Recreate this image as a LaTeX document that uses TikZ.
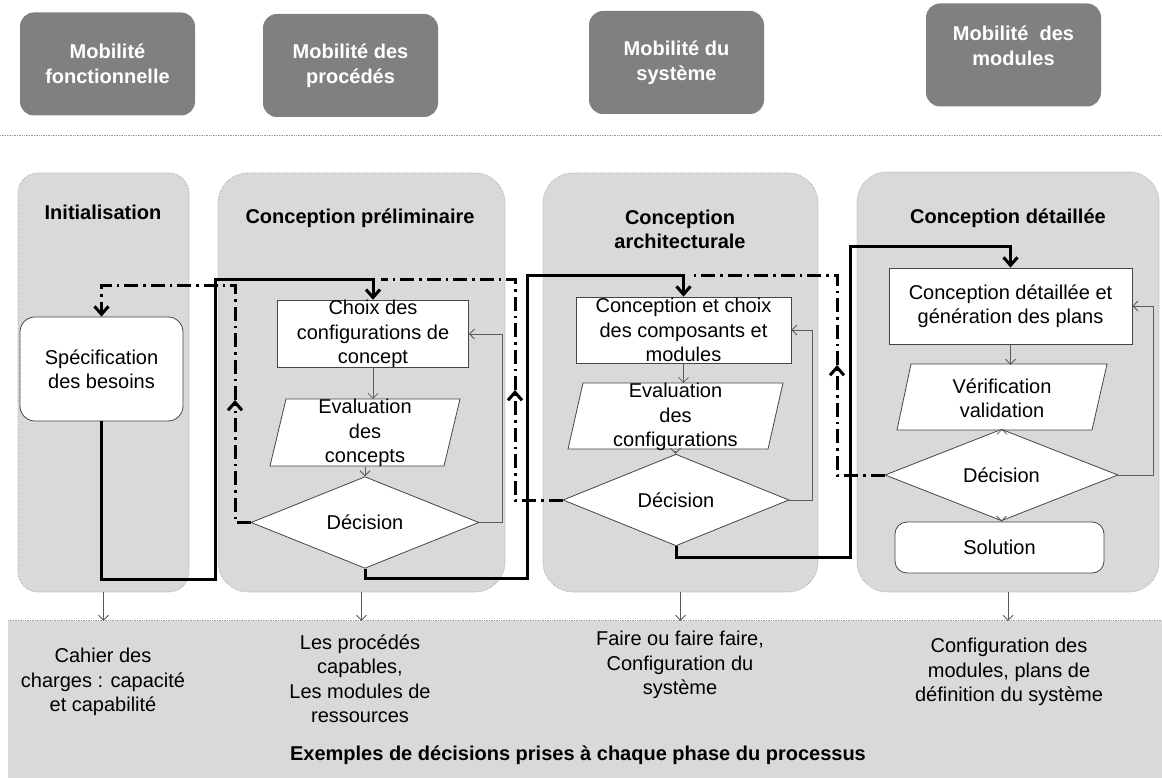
\documentclass[tikz,border=0pt]{standalone}
\usepackage{fontspec}
\setmainfont{Liberation Sans}
\usetikzlibrary{arrows.meta,shapes.geometric}
\definecolor{topgray}{HTML}{808080}
\definecolor{phasegray}{HTML}{D9D9D9}
\definecolor{bordergray}{HTML}{9A9A9A}
\definecolor{boxline}{HTML}{454545}
\definecolor{arrowgray}{HTML}{5A5A5A}
\begin{document}
\begin{tikzpicture}[x=1pt,y=-1pt]
\tikzset{
 topbox/.style={fill=topgray, rounded corners=14pt, minimum width=175pt, minimum height=103pt, inner sep=0pt, text=white, font=\bfseries\fontsize{20}{24.5}\selectfont, align=center},
 phase/.style={fill=phasegray, draw=bordergray, densely dotted, line width=0.6pt, inner sep=0pt},
 ptitle/.style={font=\bfseries\fontsize{20}{24}\selectfont, align=center, inner sep=0pt},
 body/.style={font=\fontsize{20}{24.5}\selectfont, align=center, inner sep=0pt},
 procbox/.style={body, draw=boxline, fill=white, line width=0.8pt},
 decbox/.style={body, shape=diamond, draw=boxline, fill=white, line width=0.8pt},
 parabox/.style={draw=boxline, fill=white, line width=0.8pt},
 thinarrow/.style={draw=arrowgray, line width=0.8pt, -{Straight Barb[length=5pt,width=10pt]}},
 thickflow/.style={line width=3pt, -{Straight Barb[length=8pt,width=14pt]}},
 dashflow/.style={line width=3pt, dash pattern=on 14pt off 5pt on 2.5pt off 5pt},
 dasharrow/.style={dashflow, -{Straight Barb[length=8pt,width=14pt]}},
}
\useasboundingbox (0,0) rectangle (1162,778);

% top boxes
\node[topbox] (m1) at (107.5,64) {Mobilité\\fonctionnelle};
\node[topbox] (m2) at (350.5,65.5) {Mobilité des\\procédés};
\node[topbox] (m3) at (676.5,62.5) {Mobilité du\\système};
\node[topbox] (m4) at (1013.5,55) {};
\node[topbox, fill=none, minimum width=0pt, minimum height=0pt] (t4) at (1013.5,46) {Mobilité\ \ des\\modules};
\draw[bordergray, densely dotted, line width=0.7pt] (0,135) -- (1162,135);

% bottom band
\node[fill=phasegray, inner sep=0pt, minimum width=1154pt, minimum height=157pt] (band) at (585,699.5) {};
\draw[bordergray, densely dotted, line width=0.7pt] (band.north west) -- (band.north east);

% phase columns
\node[phase, rounded corners=20pt, minimum width=171pt, minimum height=419pt] (col1) at (103.5,382.5) {};
\node[phase, rounded corners=30pt, minimum width=287pt, minimum height=419pt] (col2) at (361.5,382.5) {};
\node[phase, rounded corners=30pt, minimum width=275pt, minimum height=419pt] (col3) at (680.5,382.5) {};
\node[phase, rounded corners=30pt, minimum width=302pt, minimum height=420pt] (col4) at (1008,382) {};

\node[ptitle] (h1) at (103,212) {Initialisation};
\node[ptitle] (h2) at (360,218) {Conception préliminaire};
\node[ptitle] (h3) at (680,229) {Conception\\architecturale};
\node[ptitle] (h4) at (1008,218) {Conception détaillée};

% column 1
\node[procbox, rounded corners=15pt, minimum width=163pt, minimum height=104pt] (spec) at (101.5,369) {Spécification\\des besoins};

% column 2
\node[procbox, minimum width=191pt, minimum height=66pt] (choix) at (373,334) {Choix des\\configurations de\\concept};
\draw[parabox] (286,399) -- (460,399) -- (444,466) -- (270,466) -- cycle;
\node[body, minimum width=174pt, minimum height=67pt] (eval1) at (365,433) {Evaluation\\des\\concepts};
\node[decbox, minimum width=228pt, minimum height=69pt] (dec1) at (365,522.5) {Décision};

% column 3
\node[procbox, minimum width=215pt, minimum height=66pt] (box2) at (683.5,330) {Conception et choix\\des composants et\\modules};
\draw[parabox] (583,383) -- (783,383) -- (768,449) -- (568,449) -- cycle;
\node[body, minimum width=200pt, minimum height=66pt] (eval2) at (675.5,417) {Evaluation\\des\\configurations};
\node[decbox, minimum width=226pt, minimum height=70pt] (dec2) at (676,500) {Décision};

% column 4
\node[procbox, minimum width=243pt, minimum height=76pt] (box3) at (1010.5,306) {Conception détaillée et\\génération des plans};
\draw[parabox] (911,364) -- (1107,364) -- (1092,430) -- (897,430) -- cycle;
\node[body, minimum width=195pt, minimum height=66pt] (eval3) at (1002,398) {Vérification\\validation};
\node[decbox, minimum width=233pt, minimum height=64pt] (dec3) at (1001.5,475) {Décision};
\node[procbox, rounded corners=12pt, minimum width=209pt, minimum height=51pt] (sol) at (999.5,547.5) {Solution};

% thin arrows inside columns
\draw[thinarrow] (choix.south) -- (choix.south |- eval1.north);
\draw[thinarrow] (eval1.south) -- (dec1.north);
\draw[thinarrow] (box2.south) -- (box2.south |- eval2.north);
\draw[thinarrow] (eval2.south) -- (eval2.south |- dec2.north);
\draw[thinarrow] (box3.south) -- (box3.south |- eval3.north);
\draw[thinarrow] (eval3.south) -- (eval3.south |- dec3.north);
\draw[thinarrow] (dec3.south) -- (dec3.south |- sol.north);

% feedback loops
\coordinate (fb1) at (502,334);
\coordinate (fb2) at (812,330);
\coordinate (fb3) at (1153,306);
\draw[thinarrow] (dec1.east) -| (fb1) -- (choix.east);
\draw[thinarrow] (dec2.east) -| (fb2) -- (box2.east);
\draw[thinarrow] (dec3.east) -| (fb3) -- (box3.east);

% column to band arrows
\draw[thinarrow] (col1.south) -- (col1.south |- band.north);
\draw[thinarrow] (col2.south) -- (col2.south |- band.north);
\draw[thinarrow] (col3.south) -- (col3.south |- band.north);
\draw[thinarrow] (col4.south) -- (col4.south |- band.north);

% dash-dot return paths
\coordinate (d1m) at (235,400);
\coordinate (d2m) at (515,390);
\coordinate (d2end) at (381,279);
\coordinate (d3m) at (837,365);
\coordinate (d3end) at (692,275);
\draw[dasharrow] (dec1.west) -| (d1m);
\draw[dasharrow] (d1m) |- (spec.north |- 0,285) -- (spec.north);
\draw[dasharrow] (dec2.west) -| (d2m);
\draw[dashflow] (d2m) |- (d2end);
\draw[dasharrow] (dec3.west) -| (d3m);
\draw[dashflow] (d3m) |- (d3end);

% thick forward paths
\draw[thickflow] (spec.south) |- (215,579) |- (choix.north |- 0,279) -- (choix.north);
\draw[thickflow] (dec1.south) |- (527,578) |- (box2.north |- 0,275) -- (box2.north);
\draw[thickflow] (dec2.south) |- (850,557) |- (box3.north |- 0,247) -- (box3.north);

% band texts
\node[body] (r1) at (103,682) {Cahier des\\charges : capacité\\et capabilité};
\node[body] (r2) at (360,678.5) {Les procédés\\capables,\\Les modules de\\ressources};
\node[body] (r3) at (680,665) {Faire ou faire faire,\\Configuration du\\système};
\node[body] (r4) at (1009,672) {Configuration des\\modules, plans de\\définition du système};
\node[ptitle] (rb) at (578,755) {Exemples de décisions prises à chaque phase du processus};
\end{tikzpicture}
\end{document}
